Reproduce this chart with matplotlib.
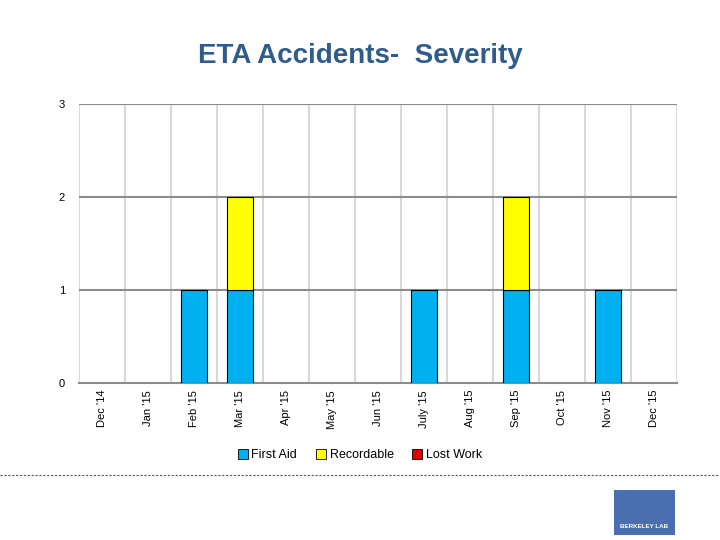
import matplotlib
matplotlib.use('Agg')

import matplotlib.pyplot as plt
import numpy as np
from matplotlib.patches import Patch, Rectangle
from matplotlib.lines import Line2D

months = ["Dec '14", "Jan '15", "Feb '15", "Mar '15", "Apr '15", "May '15", "Jun '15",
          "July '15", "Aug '15", "Sep '15", "Oct '15", "Nov '15", "Dec '15"]
first_aid = [0, 0, 1, 1, 0, 0, 0, 1, 0, 1, 0, 1, 0]
recordable = [0, 0, 0, 1, 0, 0, 0, 0, 0, 1, 0, 0, 0]
lost_work = [0, 0, 0, 0, 0, 0, 0, 0, 0, 0, 0, 0, 0]

series = ['First Aid', 'Recordable', 'Lost Work']
colors = ['#00b0f0', '#ffff00', '#e00000']

plt.rcParams['font.family'] = ['Liberation Sans', 'DejaVu Sans']

fig = plt.figure(figsize=(7.2, 5.4), dpi=100)
ax = fig.add_axes([0.1097, 0.2907, 0.8306, 0.5167])

x = np.arange(len(months))
bottom = np.zeros(len(months))
for vals, col in zip([first_aid, recordable, lost_work], colors):
    vals = np.array(vals)
    mask = vals > 0
    ax.bar(x[mask], vals[mask], bottom=bottom[mask], width=0.57, color=col,
           edgecolor='black', linewidth=0.8, zorder=3)
    bottom += vals

ax.set_xlim(-0.5, len(months) - 0.5)
ax.set_ylim(0, 3)
ax.set_yticks([0, 1, 2, 3])
ax.set_xticks(x)
ax.set_xticklabels(months, rotation=90, fontsize=8)
ax.tick_params(axis='both', length=0)
ax.tick_params(axis='x', pad=5)
ax.tick_params(axis='y', labelsize=8, pad=10)

# gridlines
for yv in [1, 2, 3]:
    ax.axhline(yv, color='#8c8c8c', linewidth=1.5, zorder=2)
for xv in np.arange(-0.5, len(months), 1):
    ax.axvline(xv, color='#d9d9d9', linewidth=1.5, zorder=1)
for s in ['top', 'right', 'left']:
    ax.spines[s].set_visible(False)
ax.spines['bottom'].set_color('#8c8c8c')
ax.spines['bottom'].set_linewidth(1.5)

handles = [Patch(facecolor=c, edgecolor='black', linewidth=0.6) for c in colors]
fig.legend(handles, series, loc='center', bbox_to_anchor=(0.5, 0.157), ncol=3,
           frameon=False, fontsize=9, handlelength=0.8, handleheight=0.8,
           handletextpad=0.3, columnspacing=1.5)

fig.text(0.5, 0.897, 'ETA Accidents-  Severity', ha='center', va='center',
         fontsize=20, fontweight='bold', color='#2f5b8d')

# dashed separator
fig.add_artist(Line2D([0, 1], [0.12, 0.12], transform=fig.transFigure,
                      color='#555555', linestyle=(0, (2, 1.5)), linewidth=0.8))

# logo box
fig.add_artist(Rectangle((614 / 720, 1 - 535 / 540), 61 / 720, 45 / 540,
                         transform=fig.transFigure, facecolor='#4a6fae',
                         edgecolor='none'))
fig.text(644.5 / 720, 1 - 527 / 540, 'BERKELEY LAB', ha='center', va='center',
         fontsize=4.5, color='white', fontweight='bold')

fig.savefig('out.png', dpi=100)
